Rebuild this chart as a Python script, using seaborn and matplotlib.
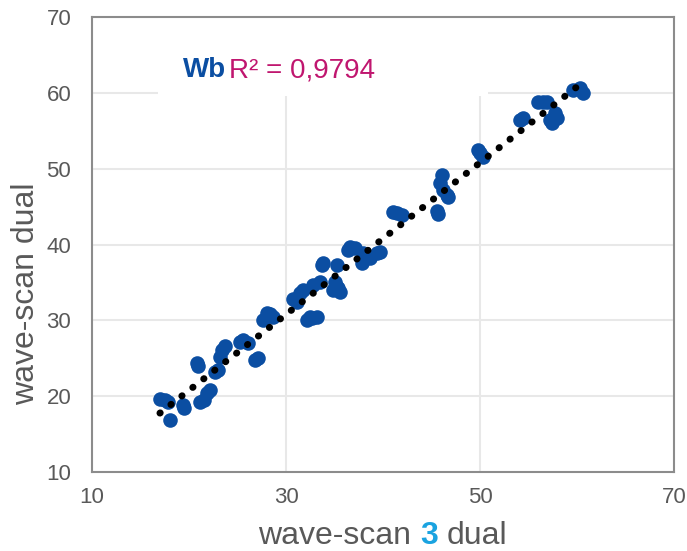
import numpy as np
import pandas as pd
import matplotlib
matplotlib.use("Agg")
import matplotlib.pyplot as plt
from matplotlib.patches import Rectangle
import seaborn as sns

# valeurs
ws3_dual = [17.0, 17.5, 17.8, 18.0, 19.4, 19.5, 20.8, 20.9, 21.1, 21.5, 21.9, 22.2, 22.7, 23.0,
            23.2, 23.4, 23.7, 25.3, 25.6, 26.1, 26.8, 27.1, 27.6, 28.0, 28.3, 28.7,
            30.7, 31.1, 31.4, 31.8, 32.2, 32.5, 32.7, 32.8, 33.2, 33.5, 33.7, 33.8,
            34.8, 35.0, 35.3, 35.4, 35.6, 35.3, 36.4, 36.6, 37.1, 37.8, 37.9, 38.1,
            38.7, 39.4, 39.7, 41.0, 41.4, 42.0, 45.6, 45.7, 45.9, 46.1, 46.2, 46.6,
            46.7, 49.8, 50.0, 50.3, 54.1, 54.4, 56.0, 56.5, 56.9, 57.2, 57.4, 57.7,
            57.9, 59.6, 60.3, 60.6]
ws_dual = [19.6, 19.5, 19.3, 16.9, 18.8, 18.5, 24.4, 24.0, 19.2, 19.5, 20.5, 20.8, 23.2, 23.5,
           25.2, 26.1, 26.7, 27.2, 27.4, 27.0, 24.8, 25.0, 30.0, 31.0, 30.8, 30.4,
           32.9, 32.4, 33.6, 34.0, 30.0, 30.4, 30.3, 34.7, 30.4, 35.1, 37.3, 37.6,
           34.0, 35.1, 34.4, 34.3, 33.7, 37.3, 39.3, 39.7, 39.5, 37.6, 38.9, 38.6,
           38.2, 38.9, 39.0, 44.3, 44.2, 43.9, 44.5, 44.1, 48.1, 49.2, 47.2, 46.5,
           46.3, 52.5, 52.1, 51.5, 56.4, 56.7, 58.8, 58.8, 58.8, 56.4, 56.0, 57.3,
           56.7, 60.4, 60.6, 60.0]
r2_label = "R² = 0,9794"
x_ticks = [10, 30, 50, 70]
y_ticks = [10, 20, 30, 40, 50, 60, 70]

df = pd.DataFrame({"ws3": ws3_dual, "ws": ws_dual})

sns.set_theme(style="whitegrid")
plt.rcParams['font.family'] = ['Liberation Sans', 'DejaVu Sans']

blue = "#0b4ea2"
grey = "#595959"

fig = plt.figure(figsize=(6.87, 5.51), dpi=100)
ax = fig.add_axes([0.134, 0.143, 0.847, 0.826])

# tendance linéaire (pointillés noirs)
coef = np.polyfit(df["ws3"], df["ws"], 1)
xs = np.array([df["ws3"].min(), df["ws3"].max()])
ax.plot(xs, np.polyval(coef, xs), color="black", lw=5, ls=(0, (0.05, 1.95)),
        dash_capstyle="round", zorder=4)

sns.scatterplot(data=df, x="ws3", y="ws", color=blue, s=110, edgecolor=blue,
                linewidth=0, ax=ax, zorder=3)

ax.set_xlim(10, 70)
ax.set_ylim(10, 70)
ax.set_xticks(x_ticks)
ax.set_yticks(y_ticks)
ax.grid(True, color="#e8e8e8", lw=1.5)
for s in ax.spines.values():
    s.set_color("#8c8c8c")
    s.set_linewidth(1.5)
ax.tick_params(axis="both", colors=grey, labelsize=16, length=0)
ax.tick_params(axis="x", pad=11)
ax.tick_params(axis="y", pad=15)
ax.set_xlabel("")
ax.set_ylabel("")

# boîte blanche de l'étiquette R²
ax.add_patch(Rectangle((16.8, 59.6), 34.0, 10.4, facecolor="white", edgecolor="none", zorder=1))
t_wb = ax.text(19.4, 63.0, "Wb", color=blue, fontsize=20, fontweight="bold", va="center", zorder=5)
ax.annotate(r2_label, xy=(1, 0.5), xycoords=t_wb, xytext=(2, 0), textcoords="offset points",
            color="#c0166f", fontsize=20, va="center", zorder=5)

# titres des axes
t1 = fig.text(0.3755, 0.012, "wave-scan", color=grey, fontsize=23, va="baseline")
t2 = ax.annotate("3", xy=(1, 0), xycoords=t1, xytext=(6.5, 0), textcoords="offset points",
                 color="#1aa3e0", fontsize=23, fontweight="bold", va="bottom",
                 annotation_clip=False)
ax.annotate("dual", xy=(1, 0), xycoords=t2, xytext=(6.5, 0), textcoords="offset points",
            color=grey, fontsize=23, va="bottom", annotation_clip=False)
fig.text(0.038, 0.466, "wave-scan dual", color=grey, fontsize=23, rotation=90,
         ha="center", va="center")

plt.savefig("out.png", dpi=100)
